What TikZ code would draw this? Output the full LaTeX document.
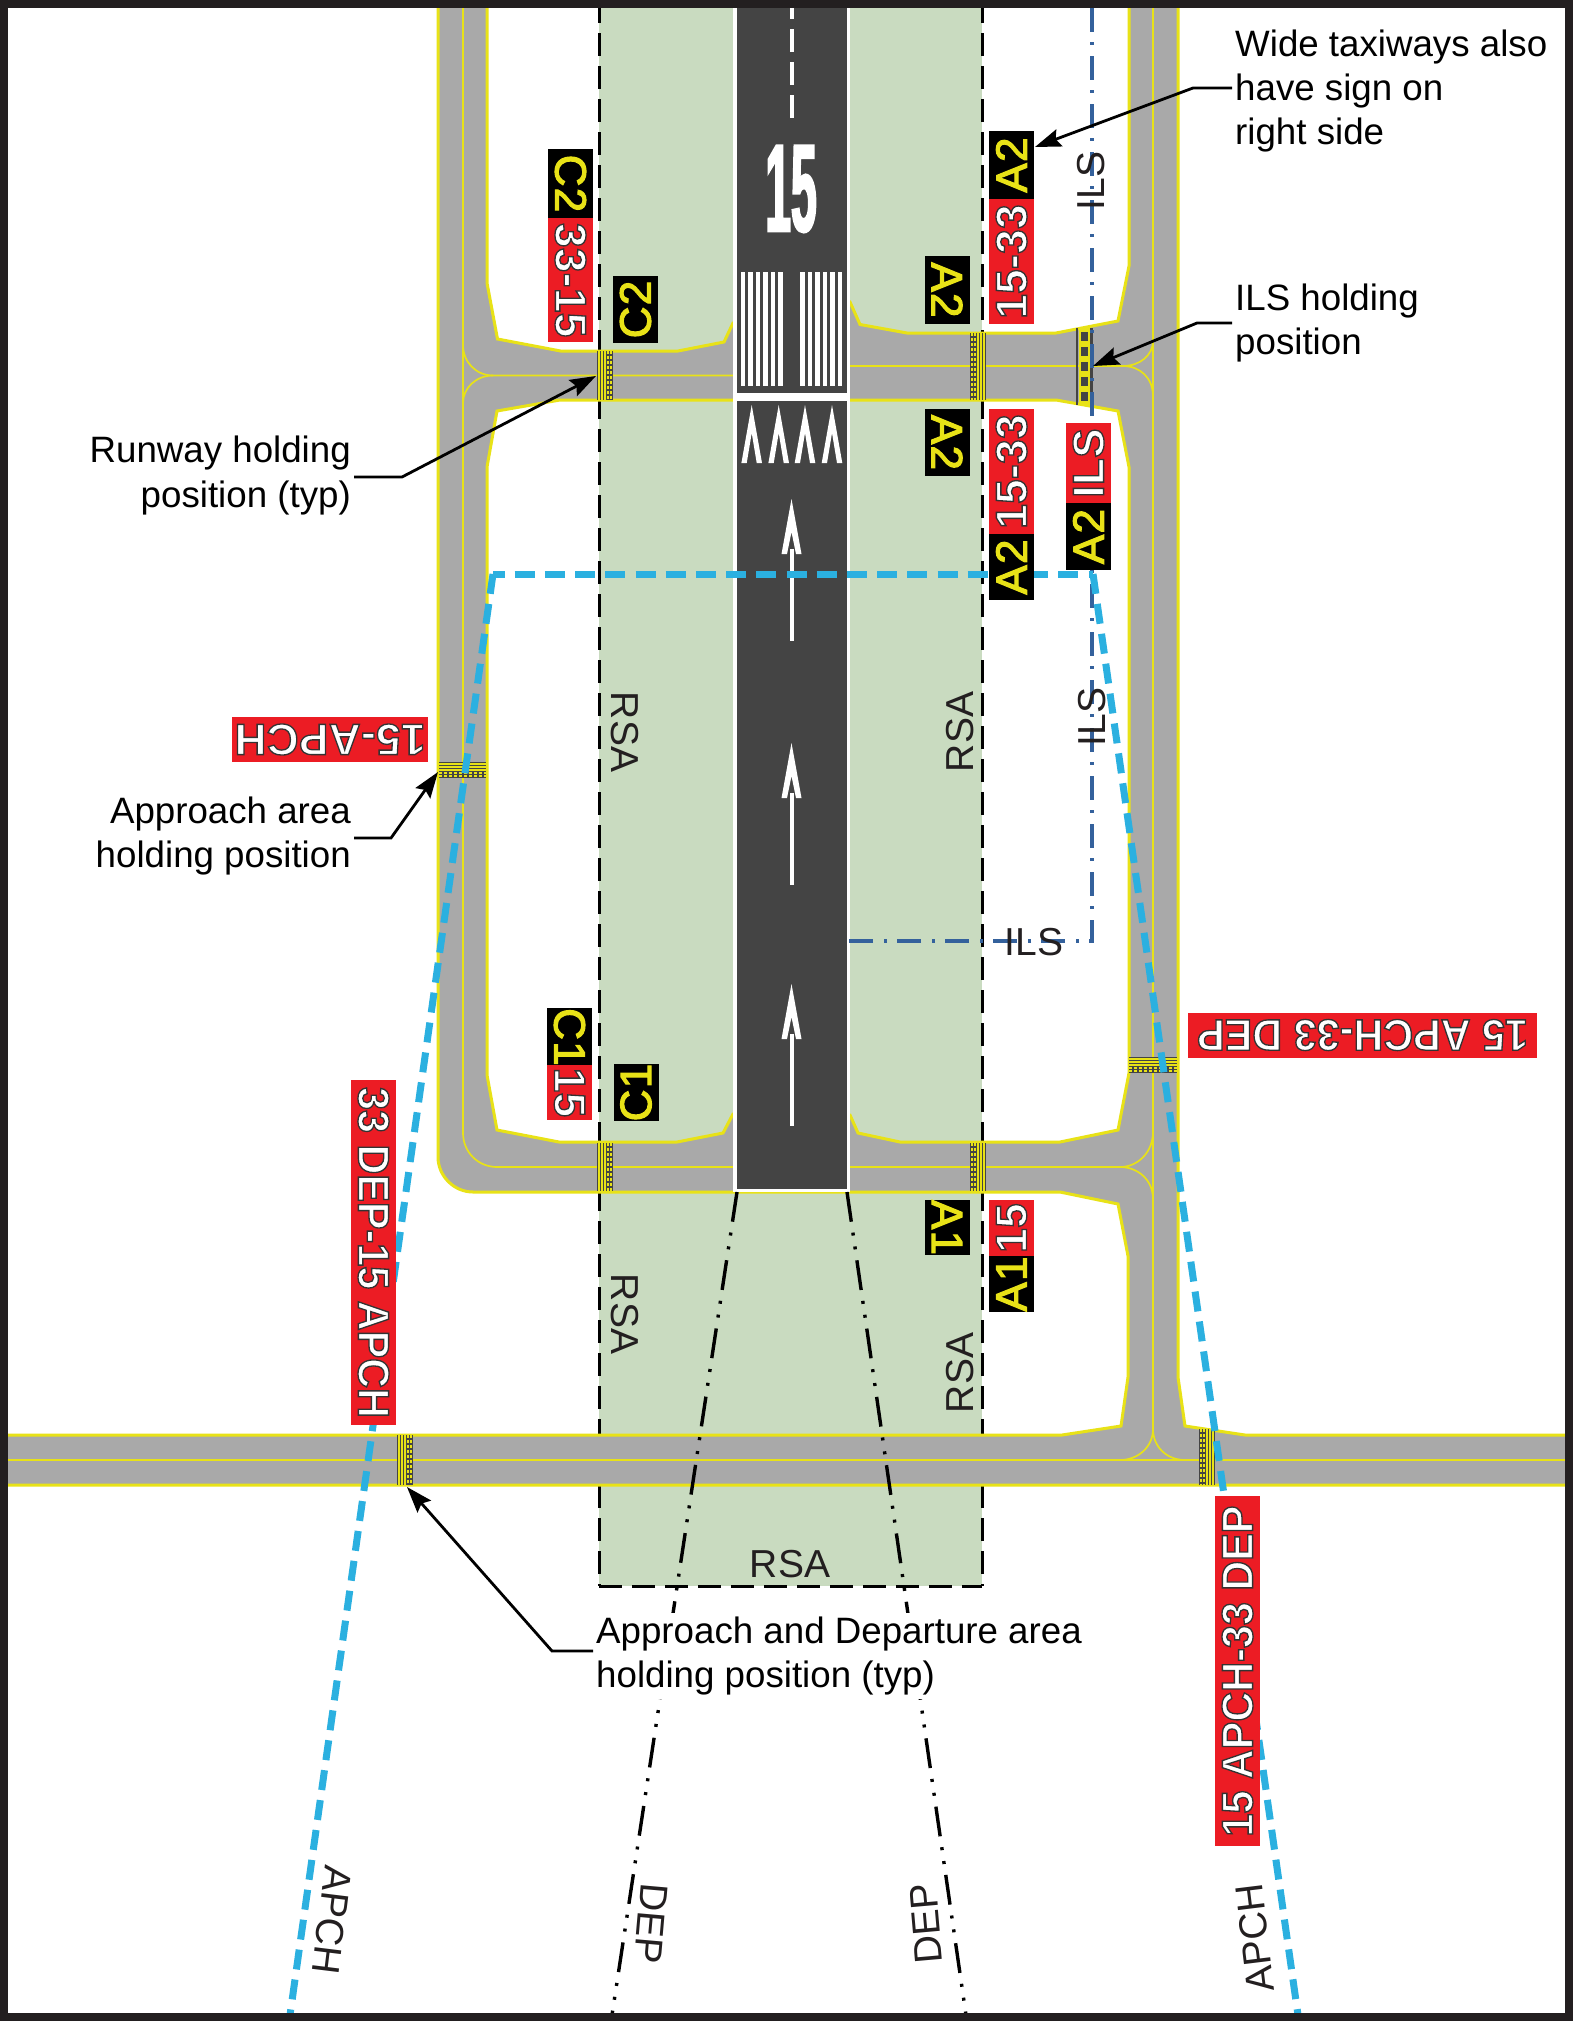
\documentclass[tikz,border=0pt]{standalone}
\usepackage{fontspec}
\usetikzlibrary{arrows.meta}
\setmainfont{Liberation Sans}
\newfontfamily\signyfont[FakeBold=2.5,LetterSpace=3]{Liberation Sans}
\newfontfamily\signwfont[FakeBold=3,LetterSpace=1]{Liberation Sans Bold}
\newfontfamily\signwwide[FakeBold=3,FakeStretch=0.94]{Liberation Sans Bold}
\newfontfamily\rwyfont[FakeStretch=0.37,FakeBold=1.5]{Liberation Sans Bold}
\definecolor{pave}{HTML}{A9A9A9}
\definecolor{edgey}{HTML}{E8E217}
\definecolor{rsagreen}{HTML}{C9DBC0}
\definecolor{rwy}{HTML}{444444}
\definecolor{signred}{HTML}{EC1C24}
\definecolor{apblue}{HTML}{2BB0E0}
\definecolor{ilsblue}{HTML}{34619C}
\definecolor{framec}{HTML}{231F20}
\newcommand{\wtxt}[1]{{\color{white}\special{pdf:code 0.2 0.2 0.2 RG}#1}}
\newcommand{\ytxt}[1]{{\color{edgey}\signyfont #1}}
% hold bars: vertical: solid edge x, direction, y0, y1
\newcommand{\holdV}[4]{%
 \fill[rwy] (#1,#3) rectangle ({#1+16*#2},#4);
 \foreach \o in {2.2,5.2,8.2} \draw[edgey,line width=1.5pt] ({#1+\o*#2},#3) -- ({#1+\o*#2},#4);
 \foreach \o in {11,14.2} \draw[edgey,line width=2.2pt,dash pattern=on 2.6pt off 2.4pt] ({#1+\o*#2},#3) -- ({#1+\o*#2},#4);
}
\newcommand{\holdH}[3]{% y solid edge (top), x0, x1
 \fill[rwy] (#2,#1) rectangle (#3,{#1+16});
 \foreach \o in {2.2,5.2,8.2} \draw[edgey,line width=1.5pt] (#2,{#1+\o}) -- (#3,{#1+\o});
 \foreach \o in {11,14.2} \draw[edgey,line width=2.2pt,dash pattern=on 2.6pt off 2.4pt] (#2,{#1+\o}) -- (#3,{#1+\o});
}
\tikzset{
 x=1pt,y=-1pt,
 edgeline/.style={draw=edgey,line width=3pt,line join=miter},
 cline/.style={draw=edgey,line width=1.7pt},
 rsadash/.style={draw=black,line width=3pt,dash pattern=on 23pt off 10pt},
 apdash/.style={draw=apblue,line width=7pt,dash pattern=on 20pt off 10.2pt},
 depdash/.style={draw=black,line width=3.4pt,dash pattern=on 30pt off 11pt on 3pt off 11pt on 3pt off 11pt},
 ilsdash/.style={draw=ilsblue,line width=3.2pt,dash pattern=on 24pt off 10pt on 3pt off 11pt},
 signbase/.style={minimum height=45pt,inner sep=0pt,outer sep=0pt,font=\fontsize{44}{44}\selectfont},
 sblk/.style={signbase,fill=black,draw=none},
 sred/.style={signbase,fill=signred,draw=none},
 lbl/.style={font=\fontsize{36.7}{44.3}\selectfont,inner sep=3pt,text=black},
 maplbl/.style={font=\fontsize{39}{39}\selectfont,inner sep=0pt,text=framec},
 leader/.style={draw=black,line width=2.8pt,-{Stealth[length=26pt,width=18pt,inset=4pt]}},
 rwymark/.style={fill=white,draw=none},
}
\begin{document}
\begin{tikzpicture}
\useasboundingbox (0,0) rectangle (1573,2021);
\fill[white] (0,0) rectangle (1573,2021);
% RSA
\fill[rsagreen] (599,0) rectangle (982,1586);
\draw[rsadash] (599,0) -- (599,1586);
\draw[rsadash] (982,0) -- (982,1586);
\draw[rsadash] (599,1586) -- (982,1586);
% pavement
\path[fill=pave,even odd rule,edgeline]
 (438,0) -- (438,1157) .. controls (438,1176) and (454,1192) .. (473,1192)
 -- (1060,1192) -- (1118,1204) -- (1128,1256) -- (1128,1377) -- (1121,1426) -- (1062,1435)
 -- (0,1435) -- (0,1485) -- (1573,1485) -- (1573,1435) -- (1245,1435) -- (1185,1426)
 -- (1178,1377) -- (1178,0) -- cycle
 (487,0) -- (487,283) -- (497.5,339) -- (560.6,351) -- (678,351) -- (724,342) -- (733,323)
 -- (850,302) -- (860,324.5) -- (907,333) -- (1056,333) -- (1118,321) -- (1129,266) -- (1129,0) -- cycle
 (487,467) -- (497,411) -- (560,400) -- (1056,400) -- (1118,411) -- (1129,467)
 -- (1129,1073) -- (1118,1130) -- (1060,1142) -- (900,1142) -- (858,1133) -- (850,1115)
 -- (733,1114) -- (723,1133) -- (677,1142) -- (559,1142) -- (497,1130) -- (487,1075) -- cycle;
% centre lines
\draw[cline] (463,0) -- (463,1133) .. controls (463,1152) and (478,1167) .. (497,1167) -- (733,1167);
\draw[cline] (463,345) .. controls (463,362) and (476,375.5) .. (493,375.5) -- (733,375.5);
\draw[cline] (463,403) .. controls (463,388) and (476,375.5) .. (493,375.5);
\draw[cline] (850,1167) -- (1120,1167) .. controls (1138,1167) and (1153,1152) .. (1153,1132);
\draw[cline] (850,366) -- (1123,366) .. controls (1140,366) and (1153,355) .. (1153,341);
\draw[cline] (1123,366) .. controls (1140,366) and (1153,378) .. (1153,396);
\draw[cline] (1153,0) -- (1153,1429);
\draw[cline] (1120,1167) .. controls (1138,1167) and (1153,1180) .. (1153,1199);
\draw[cline] (1120,1460) .. controls (1138,1460) and (1153,1447) .. (1153,1429);
\draw[cline] (1185,1460) .. controls (1167,1460) and (1153,1447) .. (1153,1429);
\draw[cline] (0,1460) -- (1573,1460);
% runway
\fill[white] (733,0) rectangle (850,1192);
\fill[rwy] (737,0) rectangle (847,393);
\fill[rwy] (737,401) rectangle (847,1189);
\foreach \s in {740.7,748.2,755.8,763.3,770.8,778.4,800.3,807.8,815.4,822.9,830.4,838} \fill[rwymark] (\s,272) rectangle ({\s+4.3},386);
\foreach \a in {751.7,778.7,805,832} \fill[rwymark] (\a,405) -- ({\a+10.3},463) -- ({\a+5},463) -- (\a,433) -- ({\a-5},463) -- ({\a-10.3},463) -- cycle;
\foreach \t in {499,743,984} {
 \fill[rwymark] (791.5,\t) -- (801.5,{\t+55}) -- (796,{\t+55}) -- (791.5,{\t+33}) -- (787,{\t+55}) -- (781.5,{\t+55}) -- cycle;
 \fill[rwymark] (789.5,{\t+50}) rectangle (793.5,{\t+142});
}
\foreach \t in {-16,17,50,83} \fill[rwymark] (789.5,{\t+12}) rectangle (793.5,{\t+35});
\node[font=\fontsize{125}{125}\selectfont\rwyfont,text=white,inner sep=0pt] (rwynum) at (791,189) {15};
% holds
\holdV{597}{1}{351}{400}
\holdV{986}{-1}{333}{400}
\holdV{597}{1}{1143}{1191}
\holdV{986}{-1}{1143}{1191}
\holdV{397}{1}{1435}{1485}
\holdV{1215}{-1}{1429}{1485}
\holdH{762}{439}{486}
\holdH{1057}{1129}{1177}
% ILS hold
\fill[rwy] (1076,328) rectangle (1077.6,405);
\fill[edgey] (1079,328) rectangle (1091,405);
\fill[rwy] (1090,328) rectangle (1093,405);
\draw[rwy,line width=7.5pt,dash pattern=on 9pt off 6pt] (1084.7,332) -- (1084.7,405);
\draw[edgey,line width=1.2pt,dash pattern=on 1.2pt off 13.8pt] (1084.7,341) -- (1084.7,405);
% ILS critical line
\draw[ilsdash] (1092,8) -- (1092,941) -- (848,941);
% approach surfaces
\draw[apdash] (493,574) -- (290,2015);
\draw[apdash,dash phase=8.5pt] (493,574) -- (1093,574);
\draw[apdash] (1093,574) -- (1298,2015);
% departure
\draw[depdash] (737,1192) -- (612,2015);
\draw[depdash] (847,1192) -- (966,2015);
% signs
\node[sblk,minimum width=69pt,rotate=-90] (sC2a) at (570.5,183.5) {\ytxt{C2}};
\node[sred,minimum width=124.5pt,rotate=-90] (sC2b) at (570.5,280.2) {\wtxt{\signwfont 33-15}};
\node[sblk,minimum width=67pt,rotate=90] (sC2c) at (635.5,309.5) {\ytxt{C2}};
\node[sblk,minimum width=68pt,rotate=-90] (sA2a) at (947,290) {\ytxt{A2}};
\node[sblk,minimum width=68pt,rotate=90] (sA2b) at (1011.5,165) {\ytxt{A2}};
\node[sred,minimum width=125pt,rotate=90] (s1533a) at (1011.5,261.5) {\wtxt{\signwfont 15-33}};
\node[sblk,minimum width=67pt,rotate=-90] (sA2c) at (947,442.5) {\ytxt{A2}};
\node[sred,minimum width=125pt,rotate=90] (s1533b) at (1011.5,471.5) {\wtxt{\signwfont 15-33}};
\node[sblk,minimum width=66pt,rotate=90] (sA2d) at (1011.5,567) {\ytxt{A2}};
\node[sred,minimum width=80pt,rotate=90] (sILS) at (1088.5,463) {\wtxt{\signwfont ILS}};
\node[sblk,minimum width=67pt,rotate=90] (sA2e) at (1088.5,536.5) {\ytxt{A2}};
\node[sblk,minimum width=56pt,rotate=-90] (sC1a) at (569.5,1037) {\ytxt{C1}};
\node[sred,minimum width=55pt,rotate=-90] (sC1b) at (569.5,1092.5) {\wtxt{\signwfont 15}};
\node[sblk,minimum width=55pt,rotate=90] (sC1c) at (636,1092.5) {\ytxt{C1}};
\node[sblk,minimum width=55pt,rotate=-90] (sA1a) at (947,1227.5) {\ytxt{A1}};
\node[sred,minimum width=56pt,rotate=90] (sA1b) at (1011.5,1228) {\wtxt{\signwfont 15}};
\node[sblk,minimum width=56pt,rotate=90] (sA1c) at (1011.5,1284) {\ytxt{A1}};
\node[sred,minimum width=196pt,rotate=180] (sAp) at (330,739.5) {\wtxt{\signwfont 15-APCH}};
\node[sred,minimum width=349pt,rotate=180] (sApDep) at (1362.5,1035) {\wtxt{\signwwide 15 APCH-33 DEP}};
\node[sred,minimum width=345pt,rotate=-90] (sDepAp) at (373.5,1252.5) {\wtxt{\signwwide 33 DEP-15 APCH}};
\node[sred,minimum width=350pt,rotate=90] (sApDep2) at (1237.5,1671) {\wtxt{\signwwide 15 APCH-33 DEP}};
% map labels
\node[maplbl,rotate=-90] (rsa1) at (625,732) {RSA};
\node[maplbl,rotate=-90] (rsa2) at (625,1314) {RSA};
\node[maplbl,rotate=90] (rsa3) at (960,732) {RSA};
\node[maplbl,rotate=90] (rsa4) at (960,1373) {RSA};
\node[maplbl] (rsa5) at (790,1564) {RSA};
\node[maplbl,rotate=90] (ils1) at (1091,181) {ILS};
\node[maplbl,rotate=90] (ils2) at (1092,717) {ILS};
\node[maplbl] (ils3) at (1034,942) {ILS};
\node[maplbl,rotate=-97] (ap1) at (332,1920) {APCH};
\node[maplbl,rotate=-95] (dp1) at (651,1924) {DEP};
\node[maplbl,rotate=95] (dp2) at (926,1924) {DEP};
\node[maplbl,rotate=97] (ap2) at (1255,1938) {APCH};
% callouts
\node[lbl,align=left,anchor=west] (tWide) at (1232,91) {Wide taxiways also\\have sign on\\right side};
\node[lbl,align=left,anchor=west] (tILS) at (1232,323) {ILS holding\\position};
\node[lbl,align=right,anchor=east] (tRun) at (354,475.5) {Runway holding\\position (typ)};
\node[lbl,align=right,anchor=east] (tApp) at (354,836) {Approach area\\holding position};
\node[lbl,align=left,anchor=west,fill=white,inner ysep=4pt] (tDep) at (593,1656) {Approach and Departure area\\holding position (typ)};
\coordinate (eWide) at (1193,88);
\coordinate (aWide) at (1035,147);
\coordinate (eILS) at (1197,323);
\coordinate (aILS) at (1093,366);
\coordinate (eRun) at (402,477);
\coordinate (aRun) at (596,376);
\coordinate (eApp) at (391,838);
\coordinate (aApp) at (438,772);
\coordinate (eDep) at (552,1651);
\coordinate (aDep) at (407,1487);
\draw[leader] (tWide.west |- eWide) -- (eWide) -- (aWide);
\draw[leader] (tILS.west |- eILS) -- (eILS) -- (aILS);
\draw[leader] (tRun.east |- eRun) -- (eRun) -- (aRun);
\draw[leader] (tApp.east |- eApp) -- (eApp) -- (aApp);
\draw[leader] (tDep.west |- eDep) -- (eDep) -- (aDep);
% frame
\draw[framec,line width=8pt] (4,4) rectangle (1569,2017);
\end{tikzpicture}
\end{document}
